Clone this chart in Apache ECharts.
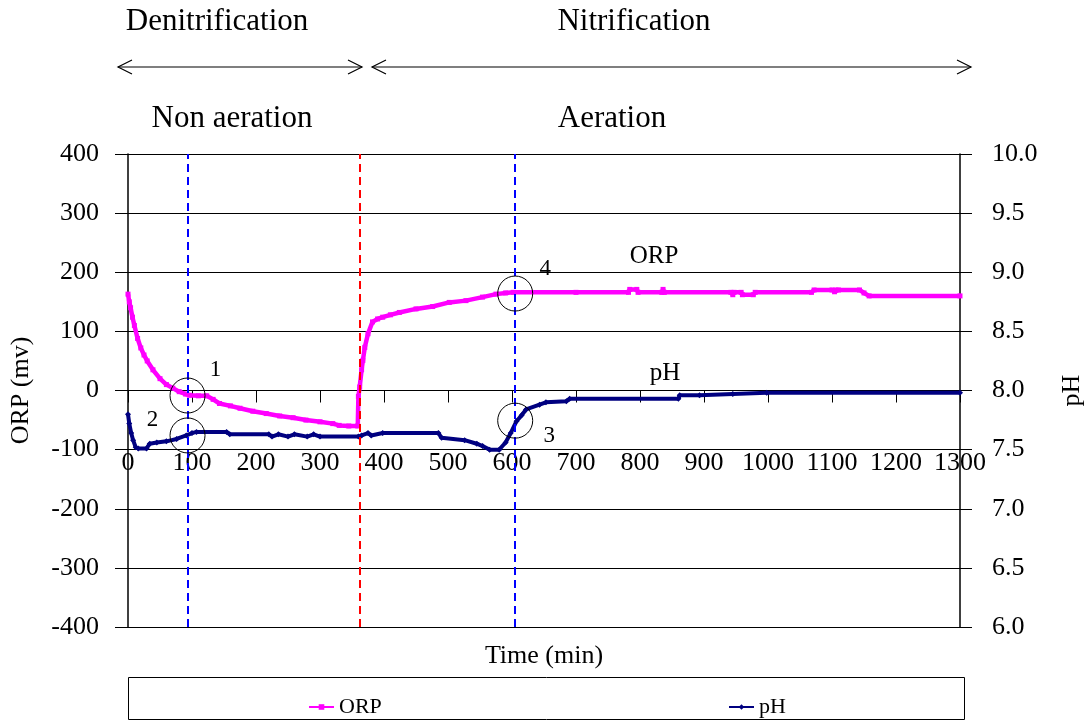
<!DOCTYPE html>
<html>
<head>
<meta charset="utf-8">
<script src="https://cdn.jsdelivr.net/npm/echarts@6/dist/echarts.min.js"></script>
<style>html,body{margin:0;padding:0;background:#fff;}#c{width:1088px;height:722px;}</style>
</head>
<body>
<div id="c"></div>
<script>
// ---- data ----
const orpT = [0,2,4,7,10,15,20,25,30,39,50,60,70,80,90,96,110,123,133,143,160,175,195,216,237,258,278,300,320,330,345,359,360,362,365,367,370,375,382,390,398,410,424,450,476,502,528,554,575,590,602,700,782,784,795,797,834,836,838,942,945,947,958,960,977,980,1068,1072,1100,1104,1106,1110,1143,1150,1158,1300];
const orpV = [163,150,140,124,110,88,72,60,50,35,20,10,4,-2,-6,-8,-9,-9,-15,-22,-26,-30,-35,-39,-43,-46,-50,-53,-56,-59,-60,-60,-10,6,35,51,73,96,116,121,124,128,132,138,142,149,152,158,163,165,166,166,166,171,171,166,166,171,166,166,162,166,166,162,162,166,166,170,170,167,170,170,170,165,160,160];
const phT = [0,2,5,8,12,16,29,34,45,60,76,91,100,107,154,159,220,225,235,250,260,280,290,300,360,365,375,380,398,485,490,526,545,554,565,580,590,598,607,615,622,643,653,685,690,860,862,893,945,998,1300];
const phV = [7.80,7.72,7.64,7.58,7.52,7.51,7.51,7.55,7.56,7.57,7.59,7.62,7.64,7.65,7.65,7.63,7.63,7.61,7.63,7.61,7.63,7.61,7.63,7.61,7.61,7.62,7.64,7.62,7.64,7.64,7.60,7.58,7.55,7.53,7.50,7.50,7.56,7.64,7.74,7.79,7.84,7.88,7.90,7.91,7.93,7.93,7.96,7.96,7.97,7.98,7.98];
const phaseLines = [93, 362, 605];          // vertical dashed markers (min)
const phaseColors = ['#0000FF', '#FF0000', '#0000FF'];
const orpCircles = [[93, -8.5, '1'], [605, 164, '4']];
const phCircles = [[93, 7.62, '2'], [605, 7.745, '3']];
const xTicks = {min: 0, max: 1300, interval: 100};
const orpTicks = {min: -400, max: 400, interval: 100};
const phTicks = {min: 6, max: 10, interval: 0.5};

const FONT = "'Liberation Serif', 'DejaVu Serif', serif";
const orpData = orpT.map((t, i) => [t, orpV[i]]);
const phData = phT.map((t, i) => [t, phV[i]]);

const chart = echarts.init(document.getElementById('c'), null, {renderer: 'canvas'});

function arrow(x1, x2, y) {
  return [
    {type: 'line', shape: {x1: x1, y1: y, x2: x2, y2: y}, style: {stroke: '#000', lineWidth: 1.2}},
    {type: 'polyline', shape: {points: [[x1 + 14, y - 7], [x1, y], [x1 + 14, y + 7]]}, style: {stroke: '#000', lineWidth: 1.2, fill: null}},
    {type: 'polyline', shape: {points: [[x2 - 14, y - 7], [x2, y], [x2 - 14, y + 7]]}, style: {stroke: '#000', lineWidth: 1.2, fill: null}}
  ];
}
function txt(x, y, s, size) {
  return {type: 'text', x: x, y: y, style: {text: s, font: size + 'px ' + FONT, fill: '#000', align: 'center', verticalAlign: 'middle'}};
}

const circleLabelOffsets = {'1': [28, -26], '2': [-35, -15], '3': [34, 15], '4': [30, -25]};
function circleData(arr) {
  return arr.map(c => ({value: [c[0], c[1]], name: c[2], label: {offset: circleLabelOffsets[c[2]]}}));
}
const circleStyle = {
  type: 'scatter', symbol: 'circle', symbolSize: 35, silent: true,
  itemStyle: {color: 'rgba(0,0,0,0)', borderColor: '#000', borderWidth: 1, opacity: 1},
  label: {show: true, position: 'inside', formatter: p => p.name, fontFamily: FONT, fontSize: 23, color: '#000', textBorderWidth: 0, opacity: 1},
  z: 5
};

const GRID_TOP = 154, GRID_BOTTOM = 95, H = 722;
// x axis sits on the ORP = 0 line: shift it up from the grid bottom
const plotH = H - GRID_TOP - GRID_BOTTOM;
const zeroShift = plotH * (orpTicks.min / (orpTicks.max - orpTicks.min)); // negative => upwards

const option = {
  animation: false,
  backgroundColor: '#fff',
  grid: {left: 128, right: 128, top: GRID_TOP, bottom: GRID_BOTTOM, containLabel: false, outerBoundsMode: 'none'},
  legend: [
    {data: ['ORP'], left: 303, top: 691, itemWidth: 25, itemHeight: 7, textStyle: {fontFamily: FONT, fontSize: 22, color: '#000'}, lineStyle: {width: 2}},
    {data: ['pH'], left: 723, top: 691, itemWidth: 25, itemHeight: 7, textStyle: {fontFamily: FONT, fontSize: 22, color: '#000'}, lineStyle: {width: 2}}
  ],
  xAxis: {
    type: 'value', min: xTicks.min, max: xTicks.max, interval: xTicks.interval,
    position: 'bottom', offset: zeroShift,
    name: 'Time (min)', nameLocation: 'middle', nameGap: 253,
    nameTextStyle: {fontFamily: FONT, fontSize: 26, color: '#000'},
    axisLine: {onZero: false, lineStyle: {color: '#000', width: 1}},
    axisTick: {show: true, length: 12, inside: false, lineStyle: {color: '#000'}},
    axisLabel: {margin: 60, fontFamily: FONT, fontSize: 26, color: '#000', formatter: v => String(v)},
    splitLine: {show: false}
  },
  yAxis: [
    {
      type: 'value', min: orpTicks.min, max: orpTicks.max, interval: orpTicks.interval, position: 'left',
      name: 'ORP (mv)', nameLocation: 'middle', nameGap: 94, nameRotate: 90,
      nameTextStyle: {fontFamily: FONT, fontSize: 26, color: '#000'},
      axisLine: {show: true, lineStyle: {color: '#000', width: 1.5}},
      axisTick: {show: true, length: 13, lineStyle: {color: '#000'}},
      axisLabel: {margin: 29, fontFamily: FONT, fontSize: 26, color: '#000'},
      splitLine: {show: true, lineStyle: {color: '#000', width: 1}}
    },
    {
      type: 'value', min: phTicks.min, max: phTicks.max, interval: phTicks.interval, position: 'right',
      name: 'pH', nameLocation: 'middle', nameGap: 99, nameRotate: 90,
      nameTextStyle: {fontFamily: FONT, fontSize: 26, color: '#000'},
      axisLine: {show: true, lineStyle: {color: '#000', width: 1.5}},
      axisTick: {show: true, length: 12, lineStyle: {color: '#000'}},
      axisLabel: {margin: 32, fontFamily: FONT, fontSize: 26, color: '#000', formatter: v => v.toFixed(1)},
      splitLine: {show: false}
    }
  ],
  series: [
    {
      name: 'ORP', type: 'line', yAxisIndex: 0, data: orpData,
      symbol: 'rect', symbolSize: 5, showSymbol: true, showAllSymbol: true,
      lineStyle: {color: '#FF00FF', width: 4.5}, itemStyle: {color: '#FF00FF'},
      z: 3,
      markLine: {
        silent: true, symbol: 'none', label: {show: false},
        data: phaseLines.map((x, i) => ({xAxis: x, lineStyle: {color: phaseColors[i], type: [8, 5], width: 2}}))
      }
    },
    {
      name: 'pH', type: 'line', yAxisIndex: 1, data: phData,
      symbol: 'diamond', symbolSize: 6, showSymbol: true, showAllSymbol: true,
      lineStyle: {color: '#000080', width: 4}, itemStyle: {color: '#000080'},
      z: 3
    },
    Object.assign({name: 'c1', yAxisIndex: 0, data: circleData(orpCircles)}, circleStyle),
    Object.assign({name: 'c2', yAxisIndex: 1, data: circleData(phCircles)}, circleStyle)
  ],
  graphic: [
    txt(217, 22, 'Denitrification', 31),
    txt(634, 22, 'Nitrification', 31),
    txt(232, 119, 'Non aeration', 31),
    txt(612, 119, 'Aeration', 31),
    ...arrow(118, 362, 67),
    ...arrow(372, 971, 67),
    txt(654, 256, 'ORP', 25),
    txt(665, 373, 'pH', 25),
    {type: 'rect', shape: {x: 128.5, y: 677.5, width: 836, height: 42}, style: {stroke: '#000', lineWidth: 1, fill: null}, z: -1}
  ]
};
chart.setOption(option);
</script>
</body>
</html>
